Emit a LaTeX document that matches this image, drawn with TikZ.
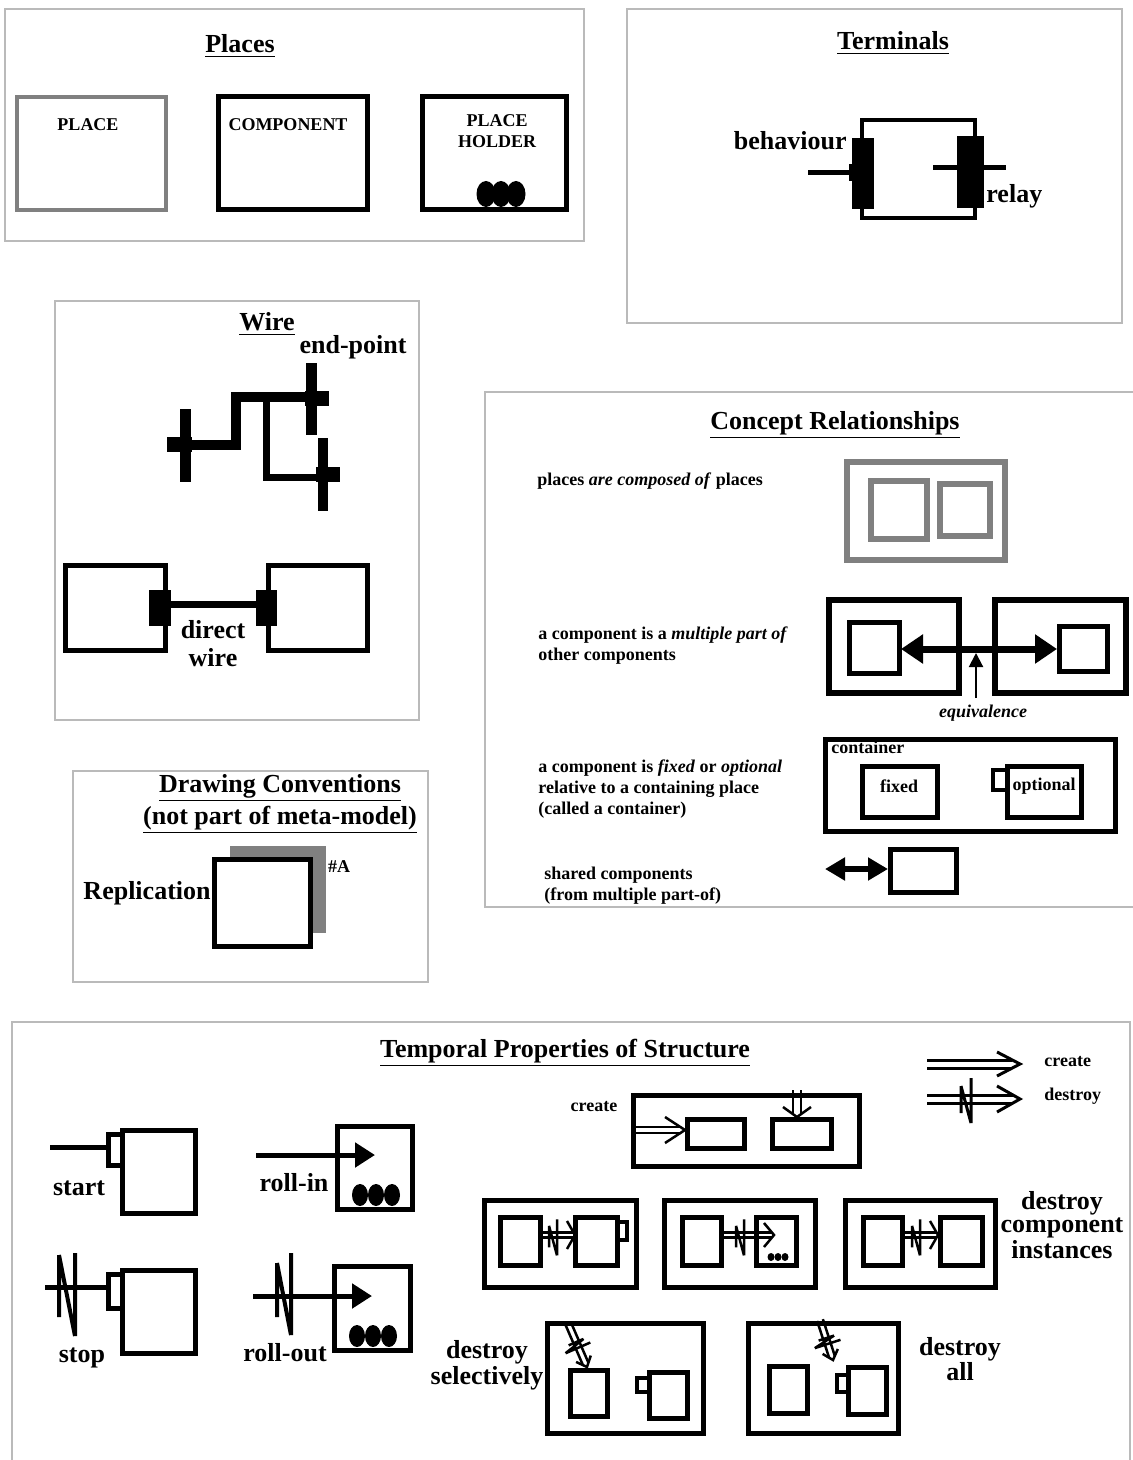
\documentclass[tikz,border=0pt]{standalone}
\usepackage{fontspec}
\setmainfont{Liberation Serif}
\usetikzlibrary{arrows.meta}

\begin{document}
\begin{tikzpicture}[x=0.5pt,y=-0.5pt,
        panel/.style={draw=black!27,line width=1pt},
        box/.style={draw,line width=2.5pt},
        gbox/.style={draw=black!50,line width=3pt},
        big/.style={font=\fontsize{13}{11.5}\selectfont\bfseries,inner sep=0pt},
        sml/.style={font=\fontsize{9}{10.5}\selectfont\bfseries,inner sep=0pt},
        tri/.style={-{Triangle[length=10pt,width=12pt]}},
        pics/crt/.style n args={4}{code={
                \draw (-#1,-#4) -- (-#2*#4/#3,-#4) (-#1,#4) -- (-#2*#4/#3,#4);
                \draw (-#2,-#3) -- (0,0) -- (-#2,#3);}},
        pics/nmk/.style={code={
                \draw (-5,-14) -- (-5,13) (5,-22) -- (5,23) (-5,-14) -- (5,23);}}]
        \useasboundingbox (0,0) rectangle (1133,1460);

        \draw[panel] (5,9) rectangle (584,241);
        \node[big] (placesT) at (240,46) {\underline{Places}};
        \draw[draw=black!50,line width=2pt] (17,97) rectangle (166,210);
        \node[sml] (place) at (88,125) {PLACE};
        \draw[box] (218,97) rectangle (367,210);
        \node[sml] (comp) at (288,125) {COMPONENT};
        \draw[box] (422,97) rectangle (566,210);
        \node[sml,align=center] (holder) at (497,131) {PLACE\\HOLDER};
        \foreach \x in {486,501,516}
                \fill (\x,194) ellipse (4.75pt and 6.5pt);

        \draw[panel] (627,9) rectangle (1122,323);
        \node[big] (termT) at (893,43) {\underline{Terminals}};
        \draw[line width=2.25pt] (862,120) rectangle (975,218);
        \fill (852,138) rectangle (874,209);
        \fill (849,164) rectangle (874,181);
        \fill (957,136) rectangle (984,208);
        \coordinate (bIn) at (808,173);
        \coordinate (bEnd) at (852,173);
        \coordinate (rA) at (933,168);
        \coordinate (rB) at (1006,168);
        \draw[line width=2.5pt] (bIn) -- (bEnd);
        \draw[line width=2.5pt] (rA) -- (rB);
        \node[big,anchor=east] (behav) at (847,141) {behaviour};
        \node[big,anchor=west] (relay) at (986,196) {relay};

        \draw[panel] (55,301) rectangle (419,720);
        \node[big] (wireT) at (267,324) {\underline{Wire}};
        \node[big] (endpt) at (353,347) {end-point};
        \draw[line width=5pt] (185,445) -- (236,445) -- (236,397) -- (317,397);
        \draw[line width=3.5pt] (266,397) -- (266,477) -- (323,477);
        \fill (180,409) rectangle (191,482);
        \fill (167,437) rectangle (192,452);
        \fill (306,363) rectangle (317,435);
        \fill (305,391) rectangle (329,406);
        \fill (318,438) rectangle (328,511);
        \fill (316,467) rectangle (340,482);
        \draw[box] (65,565) rectangle (165,650);
        \draw[box] (268,565) rectangle (367,650);
        \fill (149,590) rectangle (171,626);
        \fill (256,590) rectangle (277,626);
        \coordinate (dwL) at (171,604);
        \coordinate (dwR) at (256,604);
        \draw[line width=3.5pt] (dwL) -- (dwR);
        \node[big,align=center,font=\fontsize{13}{14}\selectfont\bfseries] (dwire) at (213,644) {direct\\wire};

        \draw[panel] (485,392) rectangle (1140,907);
        \node[big] (crT) at (835,425) {\underline{Concept Relationships}};
        \node[sml,anchor=west] (cr1) at (537,481) {places \textit{are composed of} places};
        \draw[gbox] (847,462) rectangle (1005,560);
        \draw[gbox] (871,481) rectangle (927,539);
        \draw[gbox] (940,484) rectangle (990,536);
        \node[sml,anchor=west,align=left] (cr2) at (538,646) {a component is a \textit{multiple part of}\\other components};
        \draw[line width=2.75pt] (829,600) rectangle (959,693);
        \draw[line width=2.75pt] (995,600) rectangle (1126,693);
        \draw[box] (849,622) rectangle (899,673);
        \draw[box] (1059,626) rectangle (1107,671);
        \coordinate (mpL) at (901,649);
        \coordinate (mpR) at (1057,649);
        \draw[line width=3.5pt,{Triangle[length=11pt,width=14pt]}-{Triangle[length=11pt,width=14pt]}] (mpL) -- (mpR);
        \coordinate (eqv) at (976,698);
        \coordinate (eqvTip) at (976,653);
        \draw[line width=1pt,-{Triangle[length=7pt,width=7pt]}] (eqv) -- (eqvTip);
        \node[sml] (equiv) at (983,713) {\textit{equivalence}};
        \node[sml,anchor=west,align=left] (cr3) at (538,789) {a component is \textit{fixed} or \textit{optional}\\relative to a containing place\\(called a container)};
        \draw[box] (825,739) rectangle (1115,831);
        \node[sml,anchor=west] (cont) at (831,747) {container};
        \draw[box] (862,766) rectangle (937,817);
        \node[sml] (fixed) at (899,786) {fixed};
        \draw[box] (1007,766) rectangle (1081,817);
        \draw[line width=2pt] (993,770) rectangle (1007,790);
        \node[sml] (opt) at (1044,786) {optional};
        \draw[box] (890,849) rectangle (956,892);
        \coordinate (shL) at (825,869);
        \coordinate (shR) at (888,869);
        \draw[line width=3pt,{Triangle[length=10pt,width=11pt]}-{Triangle[length=10pt,width=11pt]}] (shL) -- (shR);
        \node[sml,anchor=west,align=left] (shared) at (544,886) {shared components\\(from multiple part-of)};

        \draw[panel] (73,771) rectangle (428,982);
        \node[big,align=center,font=\fontsize{13}{16}\selectfont\bfseries] (dcT) at (280,804) {\underline{Drawing Conventions}\\\underline{(not part of meta-model)}};
        \fill[black!50] (230,846) rectangle (326,933);
        \draw[box,fill=white] (214,859) rectangle (310,946);
        \node[sml] (repA) at (339,867) {\#A};
        \node[big,anchor=east] (repl) at (211,893) {Replication};

        \draw[panel] (12,1022) rectangle (1130,1470);
        \node[big] (tpT) at (565,1053) {\underline{Temporal Properties of Structure}};
        \pic[line width=1.5pt] at (1020,1064) {crt={93}{23}{12}{4}};
        \pic[line width=1.5pt] at (1020,1099) {crt={93}{23}{13}{4}};
        \pic[line width=1.5pt] at (966,1100) {nmk};
        \node[sml,anchor=west] (lgC) at (1044,1062) {create};
        \node[sml,anchor=west] (lgD) at (1044,1096) {destroy};

        \draw[box] (122,1130) rectangle (195,1213);
        \draw[box] (108,1134) rectangle (122,1165);
        \coordinate (stIn) at (50,1147);
        \coordinate (stEnd) at (108,1147);
        \draw[line width=2.5pt] (stIn) -- (stEnd);
        \node[big] (start) at (79,1188) {start};
        \draw[box] (337,1126) rectangle (412,1209);
        \foreach \x in {360,376,392}
                \fill (\x,1195) ellipse (4pt and 5.5pt);
        \coordinate (riIn) at (256,1155);
        \coordinate (riTip) at (375,1155);
        \draw[line width=2.5pt,tri] (riIn) -- (riTip);
        \node[big] (rollin) at (294,1183) {roll-in};

        \draw[box] (122,1270) rectangle (195,1353);
        \draw[box] (108,1274) rectangle (122,1308);
        \coordinate (spIn) at (45,1287);
        \coordinate (spEnd) at (108,1287);
        \draw[line width=2.5pt] (spIn) -- (spEnd);
        \draw[line width=2pt] (59,1255) -- (59,1317) (75,1253) -- (75,1336) (59,1255) -- (75,1336);
        \node[big] (stop) at (82,1358) {stop};
        \draw[box] (334,1266) rectangle (410,1350);
        \foreach \x in {357,373,389}
                \fill (\x,1336) ellipse (4pt and 5.5pt);
        \coordinate (roIn) at (253,1296);
        \coordinate (roTip) at (372,1296);
        \draw[line width=2.5pt,tri] (roIn) -- (roTip);
        \draw[line width=2pt] (277,1263) -- (277,1317) (291,1253) -- (291,1335) (277,1263) -- (291,1335);
        \node[big] (rollout) at (285,1353) {roll-out};

        \node[sml] (crLbl) at (594,1107) {create};
        \draw[box] (633,1095) rectangle (859,1166);
        \draw[box] (687,1119) rectangle (744,1148);
        \draw[box] (772,1119) rectangle (831,1148);
        \pic[line width=1.25pt] at (685,1130) {crt={52}{20}{13}{3}};
        \pic[line width=1.25pt,rotate=-90] at (797,1117) {crt={27}{10}{14}{4}};

        \draw[box] (484,1200) rectangle (636,1287);
        \draw[box] (500,1217) rectangle (540,1265);
        \draw[box] (575,1217) rectangle (617,1265);
        \draw[line width=2pt] (617,1222) rectangle (627,1240);
        \pic[line width=1.25pt] at (575,1235) {crt={35}{8}{14}{2.5}};
        \pic[line width=1.25pt,scale=0.8] at (553,1237) {nmk};
        \draw[box] (664,1200) rectangle (815,1287);
        \draw[box] (682,1217) rectangle (721,1265);
        \draw[box] (756,1217) rectangle (796,1265);
        \foreach \x in {771,778,785}
                \fill (\x,1257) ellipse (1.75pt and 2pt);
        \pic[line width=1.25pt] at (774,1235) {crt={53}{10}{12}{2.5}};
        \pic[line width=1.25pt,scale=0.8] at (740,1237) {nmk};
        \draw[box] (845,1200) rectangle (995,1287);
        \draw[box] (863,1217) rectangle (902,1265);
        \draw[box] (940,1217) rectangle (982,1265);
        \pic[line width=1.25pt] at (938,1235) {crt={36}{8}{14}{2.5}};
        \pic[line width=1.25pt,scale=0.8] at (916,1237) {nmk};
        \node[big,align=center] (dci) at (1062,1225) {destroy\\component\\instances};

        \draw[box] (547,1323) rectangle (703,1433);
        \draw[box] (570,1370) rectangle (607,1416);
        \draw[box] (649,1372) rectangle (687,1418);
        \draw[line width=2pt] (637,1378) rectangle (649,1392);
        \pic[line width=1.25pt,rotate=-66.6] at (587,1367) {crt={48}{9}{8}{3}};
        \pic[line width=1.25pt,rotate=-66.6,scale=0.6] at (577,1345) {nmk};
        \node[big,align=center,font=\fontsize{13}{11}\selectfont\bfseries] (dsel) at (487,1365) {destroy\\selectively};
        \draw[box] (748,1323) rectangle (898,1433);
        \draw[box] (769,1366) rectangle (807,1413);
        \draw[box] (848,1367) rectangle (886,1414);
        \draw[line width=2pt] (837,1375) rectangle (848,1392);
        \pic[line width=1.25pt,rotate=-72] at (833,1360) {crt={42}{9}{8}{3}};
        \pic[line width=1.25pt,rotate=-72,scale=0.6] at (827,1341) {nmk};
        \node[big,align=center,font=\fontsize{13}{11}\selectfont\bfseries] (dall) at (960,1359) {destroy\\all};
\end{tikzpicture}
\end{document}
